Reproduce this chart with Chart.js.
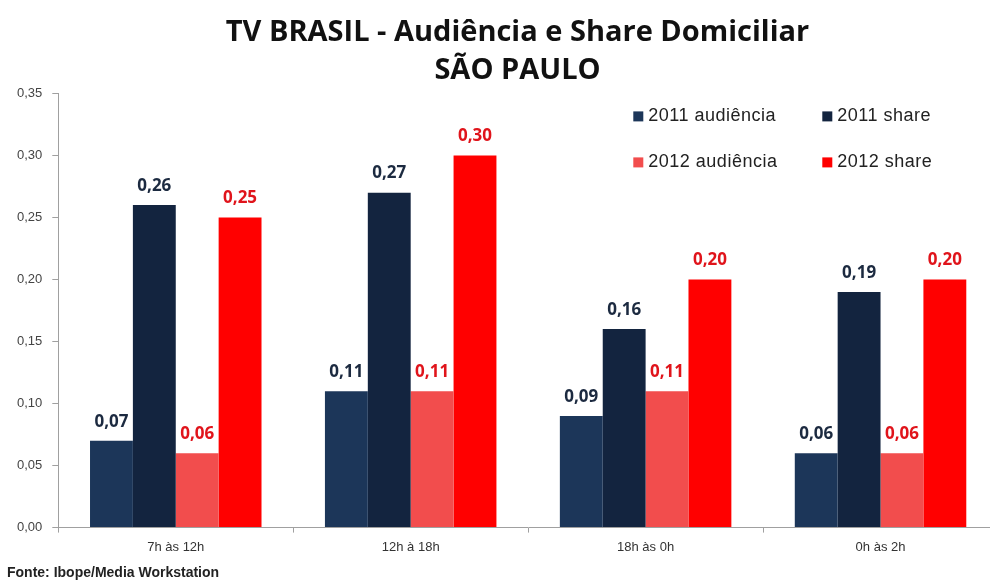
<!DOCTYPE html>
<html>
<head>
<meta charset="utf-8">
<script src="https://cdn.jsdelivr.net/npm/chart.js@4/dist/chart.umd.min.js"></script>
<style>
  html, body { margin: 0; padding: 0; background: #fff; overflow: hidden; width: 990px; height: 582px; }
  #wrap { width: 1028px; height: 582px; }
</style>
</head>
<body>
<div id="wrap"><canvas id="c" width="1028" height="582"></canvas></div>
<script>
const categories = ["7h às 12h", "12h à 18h", "18h às 0h", "0h às 2h"];
const seriesNames = ["2011 audiência", "2011 share", "2012 audiência", "2012 share"];
const aud2011 = [0.07, 0.11, 0.09, 0.06];
const share2011 = [0.26, 0.27, 0.16, 0.19];
const aud2012 = [0.06, 0.11, 0.11, 0.06];
const share2012 = [0.25, 0.30, 0.20, 0.20];
const titleLines = ["TV BRASIL - Audiência e Share Domiciliar", "SÃO PAULO"];
const sourceNote = "Fonte: Ibope/Media Workstation";

const barColors = ["#1c3659", "#13243f", "#f24d4d", "#ff0000"];
const labelColors = ["#1c2a40", "#1c2a40", "#e0141b", "#e0141b"];

const fmt = v => v.toFixed(2).replace('.', ',');

const valueLabels = {
  id: 'valueLabels',
  afterDatasetsDraw(chart) {
    const ctx = chart.ctx;
    ctx.save();
    ctx.font = 'bold 17px "Open Sans", "DejaVu Sans", sans-serif';
    ctx.textAlign = 'center';
    ctx.textBaseline = 'middle';
    chart.data.datasets.forEach((ds, i) => {
      const meta = chart.getDatasetMeta(i);
      ctx.fillStyle = labelColors[i];
      meta.data.forEach((bar, j) => {
        ctx.fillText(fmt(ds.data[j]), bar.x, bar.y - 19);
      });
    });
    ctx.restore();
  }
};

const innerLegend = {
  id: 'innerLegend',
  afterDraw(chart) {
    const ctx = chart.ctx;
    const a = chart.chartArea;
    const cols = [a.left + 575, a.left + 764];
    const rows = [a.top + 23, a.top + 69];
    ctx.save();
    ctx.font = '18px "Liberation Sans", Arial, sans-serif';
    try { ctx.letterSpacing = '0.5px'; } catch (e) {}
    ctx.textBaseline = 'middle';
    ctx.textAlign = 'left';
    chart.data.datasets.forEach((ds, i) => {
      const x = cols[i % 2];
      const y = rows[Math.floor(i / 2)];
      ctx.fillStyle = ds.backgroundColor;
      ctx.fillRect(x, y - 5, 10, 10);
      ctx.fillStyle = '#222';
      ctx.fillText(ds.label, x + 15, y);
    });
    ctx.restore();
  }
};

const allSeries = [aud2011, share2011, aud2012, share2012];

new Chart(document.getElementById('c'), {
  type: 'bar',
  data: {
    labels: categories,
    datasets: allSeries.map((d, i) => ({
      label: seriesNames[i],
      data: d,
      backgroundColor: barColors[i],
      borderWidth: 0,
      barPercentage: 1.0,
      categoryPercentage: 0.73
    }))
  },
  options: {
    responsive: false,
    animation: false,
    layout: { padding: { left: 7, right: 0, top: 0, bottom: 0 } },
    plugins: {
      legend: { display: false },
      tooltip: { enabled: false },
      title: {
        display: true,
        text: titleLines,
        color: '#111',
        font: { family: '"Open Sans", "DejaVu Sans", sans-serif', size: 29, weight: 'bold', lineHeight: 1.3 },
        padding: { top: 14, bottom: 4 }
      },
      subtitle: {
        display: true,
        position: 'bottom',
        align: 'start',
        text: sourceNote,
        color: '#222',
        font: { family: '"Liberation Sans Narrow", "Liberation Sans", Arial, sans-serif', size: 14, weight: 'bold' },
        padding: { top: 3, bottom: 0 }
      }
    },
    scales: {
      x: {
        grid: { display: true, drawOnChartArea: false, offset: true, tickLength: 5, color: '#a0a0a0' },
        border: { color: '#a0a0a0' },
        ticks: {
          color: '#333',
          font: { family: '"Liberation Sans Narrow", "Liberation Sans", Arial, sans-serif', size: 13 },
          padding: 7
        }
      },
      y: {
        min: 0,
        max: 0.35,
        ticks: {
          stepSize: 0.05,
          color: '#444',
          font: { family: '"Liberation Sans", Arial, sans-serif', size: 13 },
          padding: 10,
          callback: v => fmt(v)
        },
        grid: { display: true, drawOnChartArea: false, tickLength: 6, color: '#a0a0a0' },
        border: { color: '#a0a0a0' }
      },
      ySpacer: {
        position: 'right',
        display: true,
        min: 0,
        max: 0.35,
        grid: { display: false, drawOnChartArea: false },
        border: { display: false },
        ticks: { display: false },
        afterFit(scale) { scale.width = 30; }
      }
    }
  },
  plugins: [valueLabels, innerLegend]
});
</script>
</body>
</html>
